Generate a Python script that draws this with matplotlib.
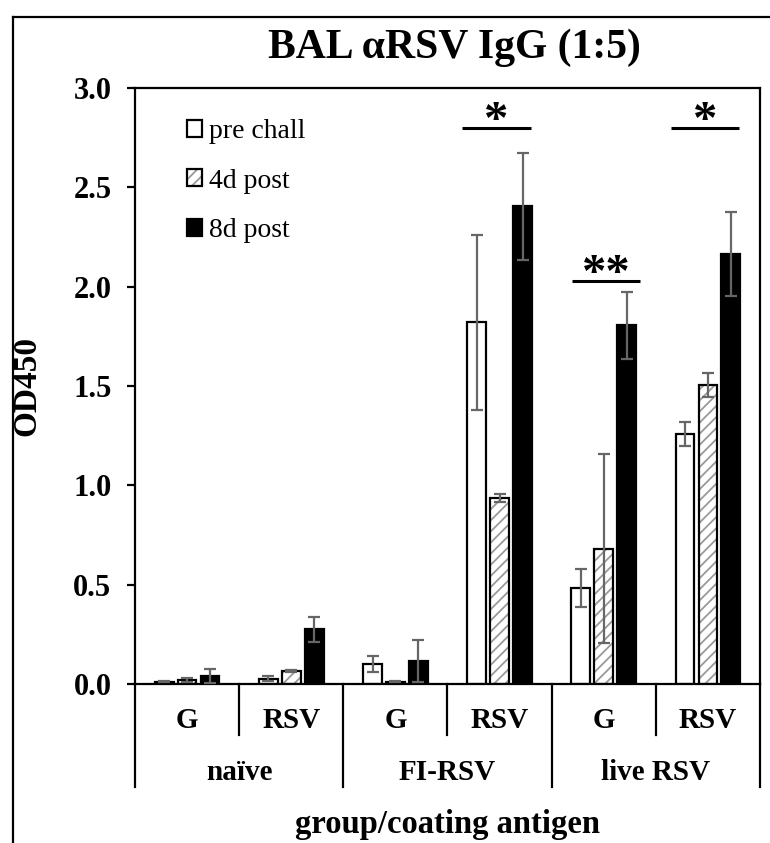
import matplotlib
matplotlib.use("Agg")
import matplotlib.pyplot as plt
import numpy as np
from matplotlib.lines import Line2D

plt.rcParams['font.family'] = ['Liberation Serif', 'DejaVu Serif']
plt.rcParams['hatch.linewidth'] = 1.3

groups = ["naïve", "FI-RSV", "live RSV"]
antigens = ["G", "RSV", "G", "RSV", "G", "RSV"]
series = ["pre chall", "4d post", "8d post"]

pre_vals = [0.012, 0.027, 0.10, 1.82, 0.485, 1.26]
pre_err = [0.004, 0.012, 0.04, 0.44, 0.095, 0.06]
d4_vals = [0.022, 0.065, 0.012, 0.935, 0.68, 1.505]
d4_err = [0.01, 0.004, 0.004, 0.02, 0.476, 0.06]
d8_vals = [0.042, 0.275, 0.115, 2.405, 1.805, 2.165]
d8_err = [0.035, 0.064, 0.105, 0.27, 0.17, 0.21]

yticks = [0.0, 0.5, 1.0, 1.5, 2.0, 2.5, 3.0]

# significance: (x_start, x_end, y, label)
sig = [(2.64, 3.30, 2.80, "*"), (3.695, 4.35, 2.03, "**"), (4.645, 5.30, 2.80, "*")]

W, H = 770, 843
fig = plt.figure(figsize=(W / 100, H / 100), dpi=100)
ax = fig.add_axes([135 / W, 1 - 684 / H, (760 - 135) / W, (684 - 88) / H])

x = np.arange(len(antigens))
bw = 0.18
off = 0.22
ecol = '#666666'
lw = 1.6

b1 = ax.bar(x - off, pre_vals, bw, color='white', edgecolor='black', linewidth=lw, zorder=2)
b2a = ax.bar(x, d4_vals, bw, color='white', edgecolor='#9a9a9a', hatch='///', linewidth=0, zorder=2)
b2b = ax.bar(x, d4_vals, bw, color='none', edgecolor='black', linewidth=lw, zorder=2.1)
b3 = ax.bar(x + off, d8_vals, bw, color='black', edgecolor='black', linewidth=lw, zorder=2)

for xs, v, e in [(x - off, pre_vals, pre_err), (x, d4_vals, d4_err), (x + off, d8_vals, d8_err)]:
    ax.errorbar(xs, v, yerr=e, fmt='none', ecolor=ecol, elinewidth=1.6, capsize=4.5,
                capthick=1.6, zorder=3)

for x0, x1, yy, lab in sig:
    ax.plot([x0, x1], [yy, yy], color='black', lw=2.2, solid_capstyle='butt', zorder=4)
    ax.text((x0 + x1) / 2, yy - 0.03, lab, ha='center', va='baseline', fontsize=35,
            fontweight='bold', zorder=4)

ax.set_xlim(-0.5, 5.5)
ax.set_ylim(0, 3.0)
ax.set_yticks(yticks)
ax.set_yticklabels([f"{t:.1f}" for t in yticks], fontsize=22, fontweight='bold')
ax.tick_params(axis='y', direction='out', length=6, width=1.6, pad=11)
ax.set_xticks([])
for s in ax.spines.values():
    s.set_linewidth(1.6)

# multi-level category axis
tr = ax.get_xaxis_transform()
ax_h = 684 - 88
sub_bot = -(735 - 684) / ax_h
grp_bot = -(787 - 684) / ax_h
for xb in [-0.5, 1.5, 3.5, 5.5]:
    ax.plot([xb, xb], [0, grp_bot], transform=tr, color='black', lw=1.6, clip_on=False)
for xb in [0.5, 2.5, 4.5]:
    ax.plot([xb, xb], [0, sub_bot], transform=tr, color='black', lw=1.6, clip_on=False)
for i, a in enumerate(antigens):
    ax.text(i, -(728 - 684) / ax_h, a, transform=tr, ha='center', va='baseline',
            fontsize=21, fontweight='bold')
for j, g in enumerate(groups):
    ax.text(2 * j + 0.5, -(780 - 684) / ax_h, g, transform=tr, ha='center', va='baseline',
            fontsize=21, fontweight='bold')
ax.text(2.5, -(833 - 684) / ax_h, "group/coating antigen", transform=tr, ha='center',
        va='baseline', fontsize=23.5, fontweight='bold')

ax.set_ylabel("OD450", fontsize=24, fontweight='bold')
ax.yaxis.set_label_coords(-(133 - 40) / 625, 0.5)

fig.text(454 / W, 1 - 48 / H, "BAL αRSV IgG (1:5)", ha='center', va='center',
         fontsize=30, fontweight='bold')

leg = ax.legend([b1, (b2a, b2b), b3], series, loc='upper left',
                bbox_to_anchor=((176 - 135) / 625, (684 - 108) / ax_h),
                frameon=False, fontsize=20, handlelength=0.55, handleheight=0.55,
                handletextpad=0.25, labelspacing=0.88, borderaxespad=0)

# outer frame
fig.add_artist(Line2D([13 / W, 13 / W], [0, 1 - 17 / H], color='black', lw=1.6))
fig.add_artist(Line2D([13 / W, 1], [1 - 17 / H, 1 - 17 / H], color='black', lw=1.6))

fig.savefig("out.png", dpi=100)
